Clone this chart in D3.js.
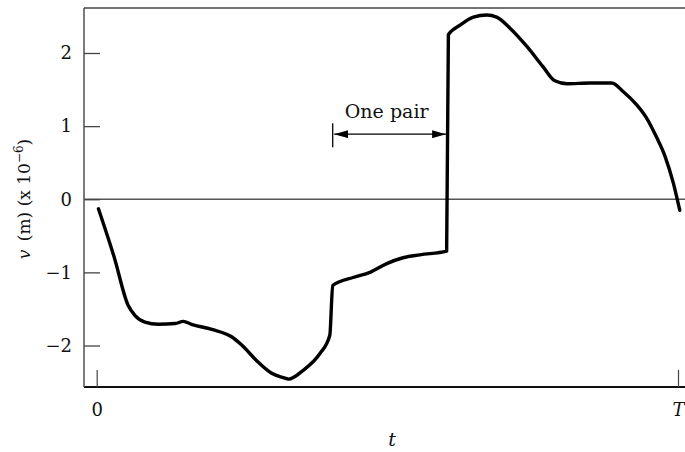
<!DOCTYPE html>
<html>
<head>
<meta charset="utf-8">
<script src="https://cdn.jsdelivr.net/npm/d3@7"></script>
<style>
  html, body { margin: 0; padding: 0; background: #fff; }
  svg { display: block; }
  text { font-family: "DejaVu Serif", "Liberation Serif", serif; fill: #111; }
</style>
</head>
<body>
<svg id="chart" width="685" height="452"></svg>
<script>
// Time as a fraction of the period T
const tValues = [0.003, 0.030, 0.054, 0.066, 0.083, 0.106, 0.135, 0.149, 0.163, 0.198, 0.232,
  0.249, 0.278, 0.301, 0.321, 0.330, 0.355, 0.384, 0.401, 0.406, 0.441,
  0.470, 0.499, 0.527, 0.556, 0.602, 0.605, 0.625, 0.648, 0.671, 0.688,
  0.711, 0.740, 0.768, 0.788, 0.809, 0.849, 0.886, 0.906, 0.929, 0.946,
  0.963, 0.978, 0.992, 1.003];
// Displacement v in units of 1e-6 m
const vValues = [-0.13, -0.79, -1.45, -1.59, -1.68, -1.71, -1.70, -1.67, -1.71, -1.78, -1.88,
  -1.99, -2.23, -2.38, -2.44, -2.46, -2.34, -2.11, -1.86, -1.18, -1.07,
  -1.00, -0.88, -0.80, -0.76, -0.71, 2.25, 2.38, 2.49, 2.52, 2.49,
  2.34, 2.09, 1.81, 1.62, 1.58, 1.59, 1.59, 1.47, 1.29, 1.11,
  0.85, 0.58, 0.22, -0.15];
const yTicks = [-2, -1, 0, 1, 2];
const xTicks = [0, 1];
const xTickLabels = ["0", "T"];
// One pair spans between the two jumps
const pairStart = 0.406, pairEnd = 0.602, pairLevel = 0.89, pairLabel = "One pair";

const svg = d3.select("#chart");
const W = 685, H = 452;
const frameLeft = 84, frameTop = 8, frameBottom = 387;

const x = d3.scaleLinear().domain([0, 1]).range([96.7, 678]);
const y = d3.scaleLinear().domain([-2, 2]).range([345.5, 53]);

// Frame: left, top and bottom edges (open on the right)
svg.append("line").attr("x1", frameLeft).attr("x2", W).attr("y1", frameTop).attr("y2", frameTop)
  .attr("stroke", "#444").attr("stroke-width", 1.3);
svg.append("line").attr("x1", frameLeft).attr("x2", W).attr("y1", frameBottom).attr("y2", frameBottom)
  .attr("stroke", "#111").attr("stroke-width", 2);
svg.append("line").attr("x1", frameLeft).attr("x2", frameLeft).attr("y1", frameTop).attr("y2", frameBottom)
  .attr("stroke", "#444").attr("stroke-width", 1.4);

// Zero line
svg.append("line").attr("x1", frameLeft).attr("x2", W).attr("y1", y(0)).attr("y2", y(0))
  .attr("stroke", "#555").attr("stroke-width", 1.3);

// Y axis with inward ticks
const yAxis = svg.append("g").attr("transform", `translate(${frameLeft},0)`)
  .call(d3.axisLeft(y).tickValues(yTicks).tickSize(-16).tickPadding(12).tickFormat(d3.format("d")));
yAxis.select(".domain").remove();
yAxis.selectAll(".tick line").attr("stroke", "#444").attr("stroke-width", 1.3);
yAxis.selectAll(".tick text").style("font-size", "18px")
  .style("font-family", '"DejaVu Serif", serif').attr("fill", "#111");

// X axis with inward ticks
const xAxis = svg.append("g").attr("transform", `translate(0,${frameBottom})`)
  .call(d3.axisBottom(x).tickValues(xTicks).tickSize(-17).tickPadding(16)
    .tickFormat((d, i) => xTickLabels[i]));
xAxis.select(".domain").remove();
xAxis.selectAll(".tick line").attr("stroke", "#444").attr("stroke-width", 1.2);
xAxis.selectAll(".tick text").style("font-size", "18px")
  .style("font-family", '"DejaVu Serif", serif').attr("fill", "#111")
  .style("font-style", (d, i) => i === 1 ? "italic" : "normal");

// Axis titles
svg.append("text").attr("x", 392).attr("y", 446).attr("text-anchor", "middle")
  .style("font-size", "19px").style("font-style", "italic").text("t");

const yTitle = svg.append("text")
  .attr("transform", `translate(30,199) rotate(-90)`)
  .attr("text-anchor", "middle").style("font-size", "17px");
yTitle.append("tspan").style("font-style", "italic").text("v");
yTitle.append("tspan").text("\u2002(m) (x 10");
yTitle.append("tspan").attr("dy", -7).style("font-size", "12px").text("\u22126");
yTitle.append("tspan").attr("dy", 7).text(")");

// Signal trace
const data = tValues.map((t, i) => ({ t, v: vValues[i] }));
svg.append("path").datum(data)
  .attr("fill", "none").attr("stroke", "#000").attr("stroke-width", 3.4)
  .attr("stroke-linejoin", "round").attr("stroke-linecap", "round")
  .attr("d", d3.line().x(d => x(d.t)).y(d => y(d.v)).curve(d3.curveMonotoneX));

// "One pair" dimension marker
const defs = svg.append("defs");
defs.append("marker").attr("id", "head").attr("viewBox", "0 0 14 8")
  .attr("refX", 14).attr("refY", 4).attr("markerWidth", 14).attr("markerHeight", 8)
  .attr("markerUnits", "userSpaceOnUse").attr("orient", "auto-start-reverse")
  .append("path").attr("d", "M0,0 L14,4 L0,8 Z").attr("fill", "#000");

const ay = y(pairLevel);
svg.append("line").attr("x1", x(pairStart) + 1.5).attr("x2", x(pairEnd) - 0.5)
  .attr("y1", ay).attr("y2", ay).attr("stroke", "#000").attr("stroke-width", 1.4)
  .attr("marker-start", "url(#head)").attr("marker-end", "url(#head)");
svg.append("line").attr("x1", x(pairStart)).attr("x2", x(pairStart))
  .attr("y1", ay - 11).attr("y2", ay + 13).attr("stroke", "#000").attr("stroke-width", 1.3);
svg.append("text").attr("x", (x(pairStart) + x(pairEnd)) / 2 - 3).attr("y", y(pairLevel) - 16)
  .attr("text-anchor", "middle").style("font-size", "19px").text(pairLabel);
</script>
</body>
</html>
